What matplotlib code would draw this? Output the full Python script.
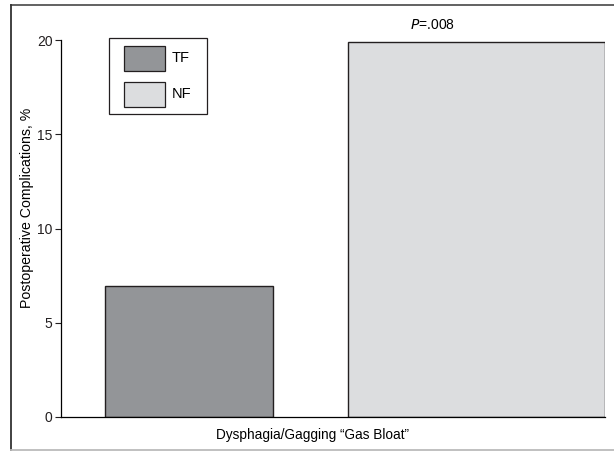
import matplotlib
matplotlib.use("Agg")
import matplotlib.pyplot as plt
from matplotlib.patches import Rectangle
from matplotlib.lines import Line2D

plt.rcParams['font.family'] = ['Liberation Sans', 'DejaVu Sans']

# data
groups = ['TF', 'NF']
values = [6.95, 19.9]
y_ticks = [0, 5, 10, 15, 20]
category = 'Dysphagia/Gagging \u201cGas Bloat\u201d'
p_text = '=.008'

colors = ['#939598', '#dcdddf']
edge = '#231f20'

W, H = 614, 451
fig = plt.figure(figsize=(W / 100, H / 100), dpi=100)

# outer frame: dark top/left, light bottom, right edge cut off
fig.add_artist(Line2D([11 / W, 1.01], [1 - 5 / H, 1 - 5 / H], color='#555555', lw=1.3, transform=fig.transFigure))
fig.add_artist(Line2D([11 / W, 11 / W], [1 - 5 / H, 1 / H], color='#333333', lw=1.3, transform=fig.transFigure))
fig.add_artist(Line2D([11 / W, 1.01], [1 / H, 1 / H], color='#bbbbbb', lw=1.3, transform=fig.transFigure))

ax_l, ax_b, ax_w, ax_h = 61, 417, 544, 377
ax = fig.add_axes([ax_l / W, (H - ax_b) / H, ax_w / W, ax_h / H])


def px(x, y):
    # figure pixel (from top-left) -> axes fraction
    return (x - ax_l) / ax_w, (ax_b - y) / ax_h


# bar layout in axes pixel units (left edge, width)
lefts = [44, 287]
widths = [168, 257]
for i in range(len(groups)):
    ax.bar(lefts[i], values[i], width=widths[i], align='edge', color=colors[i],
           edgecolor=edge, linewidth=1.0, zorder=2)

ax.set_xlim(0, ax_w)
ax.set_ylim(0, 20)
ax.set_yticks(y_ticks)
ax.set_xticks([])
ax.tick_params(axis='y', direction='out', length=4, width=0.8, labelsize=10, colors='#231f20', pad=2)
for s in ['top', 'right']:
    ax.spines[s].set_visible(False)
ax.spines['left'].set_linewidth(0.9)
ax.spines['bottom'].set_linewidth(0.9)

ax.set_ylabel('Postoperative Complications, %', fontsize=10.2, va='center')
ax.yaxis.set_label_coords(*px(27, 208))
ax.set_xlabel(category, fontsize=9.8, va='center')
ax.xaxis.set_label_coords(*px(313, 435))

ax.text(371, 20.45, r'$\it{P}$' + p_text, ha='center', va='bottom', fontsize=10)

# legend box drawn by hand
x0, y0 = px(109, 114)
x1, y1 = px(207, 38)
ax.add_patch(Rectangle((x0, y0), x1 - x0, y1 - y0, transform=ax.transAxes, fill=False,
                       edgecolor=edge, lw=0.9, clip_on=False, zorder=5))
patch_tops = [46, 82]
for i in range(len(groups)):
    a0, b0 = px(124, patch_tops[i] + 25)
    a1, b1 = px(165, patch_tops[i])
    ax.add_patch(Rectangle((a0, b0), a1 - a0, b1 - b0, transform=ax.transAxes, facecolor=colors[i],
                           edgecolor=edge, lw=0.9, clip_on=False, zorder=5))
    tx, ty = px(172, patch_tops[i] + 12.5)
    ax.text(tx, ty, groups[i], transform=ax.transAxes, ha='left', va='center', fontsize=10.5, zorder=6)

fig.savefig('out.png', dpi=100)
